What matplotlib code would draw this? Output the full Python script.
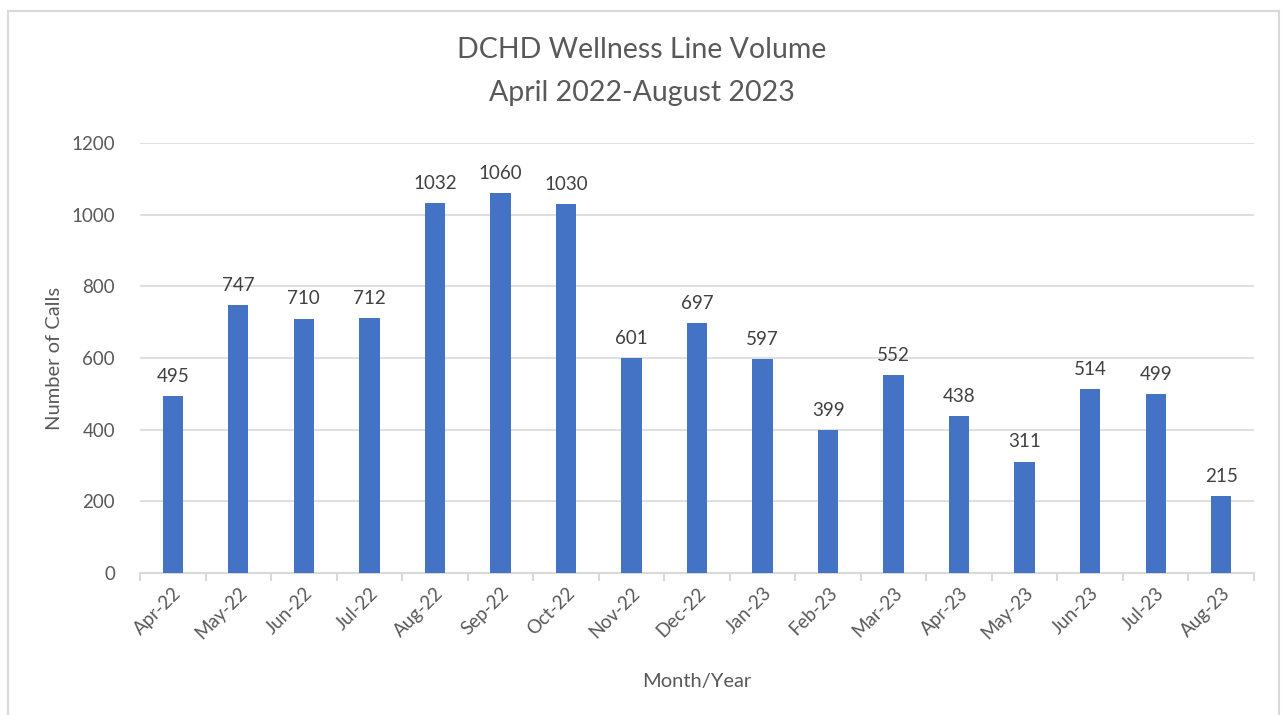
import numpy as np
import matplotlib.pyplot as plt
from matplotlib.patches import Rectangle

months = ["Apr-22", "May-22", "Jun-22", "Jul-22", "Aug-22", "Sep-22", "Oct-22", "Nov-22",
          "Dec-22", "Jan-23", "Feb-23", "Mar-23", "Apr-23", "May-23", "Jun-23", "Jul-23", "Aug-23"]
calls = [495, 747, 710, 712, 1032, 1060, 1030, 601, 697, 597, 399, 552, 438, 311, 514, 499, 215]

plt.rcParams['font.family'] = ['Lato', 'DejaVu Sans']
text_col = '#595959'

fig = plt.figure(figsize=(12.84, 7.15), dpi=100)
# outer chart border
fig.patches.append(Rectangle((8 / 1284, -0.05), 1271 / 1284, 1 - 11 / 715 + 0.05,
                             transform=fig.transFigure, fill=False, edgecolor='#d9d9d9', linewidth=1.5))

ax = fig.add_axes([140 / 1284, 1 - 573 / 715, 1114 / 1284, 430 / 715])
x = np.arange(len(months))
bars = ax.bar(x, calls, width=0.31, color='#4472c4', zorder=3)
ax.bar_label(bars, labels=[str(v) for v in calls], padding=8, fontsize=13.5, color='#404040')

ax.set_xlim(-0.5, len(months) - 0.5)
ax.set_ylim(0, 1200)
ax.set_yticks(np.arange(0, 1201, 200))
ax.grid(axis='y', color='#d9d9d9', linewidth=1.2, zorder=0)
for s in ['top', 'right', 'left']:
    ax.spines[s].set_visible(False)
ax.spines['bottom'].set_color('#d9d9d9')
ax.spines['bottom'].set_linewidth(1.5)

ax.set_xticks(x)
ax.set_xticklabels(months, rotation=45, ha='right', rotation_mode='anchor', fontsize=13.5, color=text_col)
ax.tick_params(axis='x', length=0, pad=8)
ax.set_xticks(np.arange(-0.5, len(months)), minor=True)
ax.tick_params(axis='x', which='minor', length=6, color='#d9d9d9', width=1.5)
ax.tick_params(axis='y', length=0, pad=18, labelsize=13.5, labelcolor=text_col)

ax.set_ylabel('Number of Calls', fontsize=14.5, color=text_col, labelpad=6)
ax.set_xlabel('Month/Year', fontsize=14.5, color=text_col, labelpad=22)
fig.text(0.5, 1 - 50 / 715, 'DCHD Wellness Line Volume', ha='center', va='center', fontsize=20.5, color=text_col)
fig.text(0.5, 1 - 93 / 715, 'April 2022-August 2023', ha='center', va='center', fontsize=20.5, color=text_col)

fig.savefig('out.png', dpi=100)
